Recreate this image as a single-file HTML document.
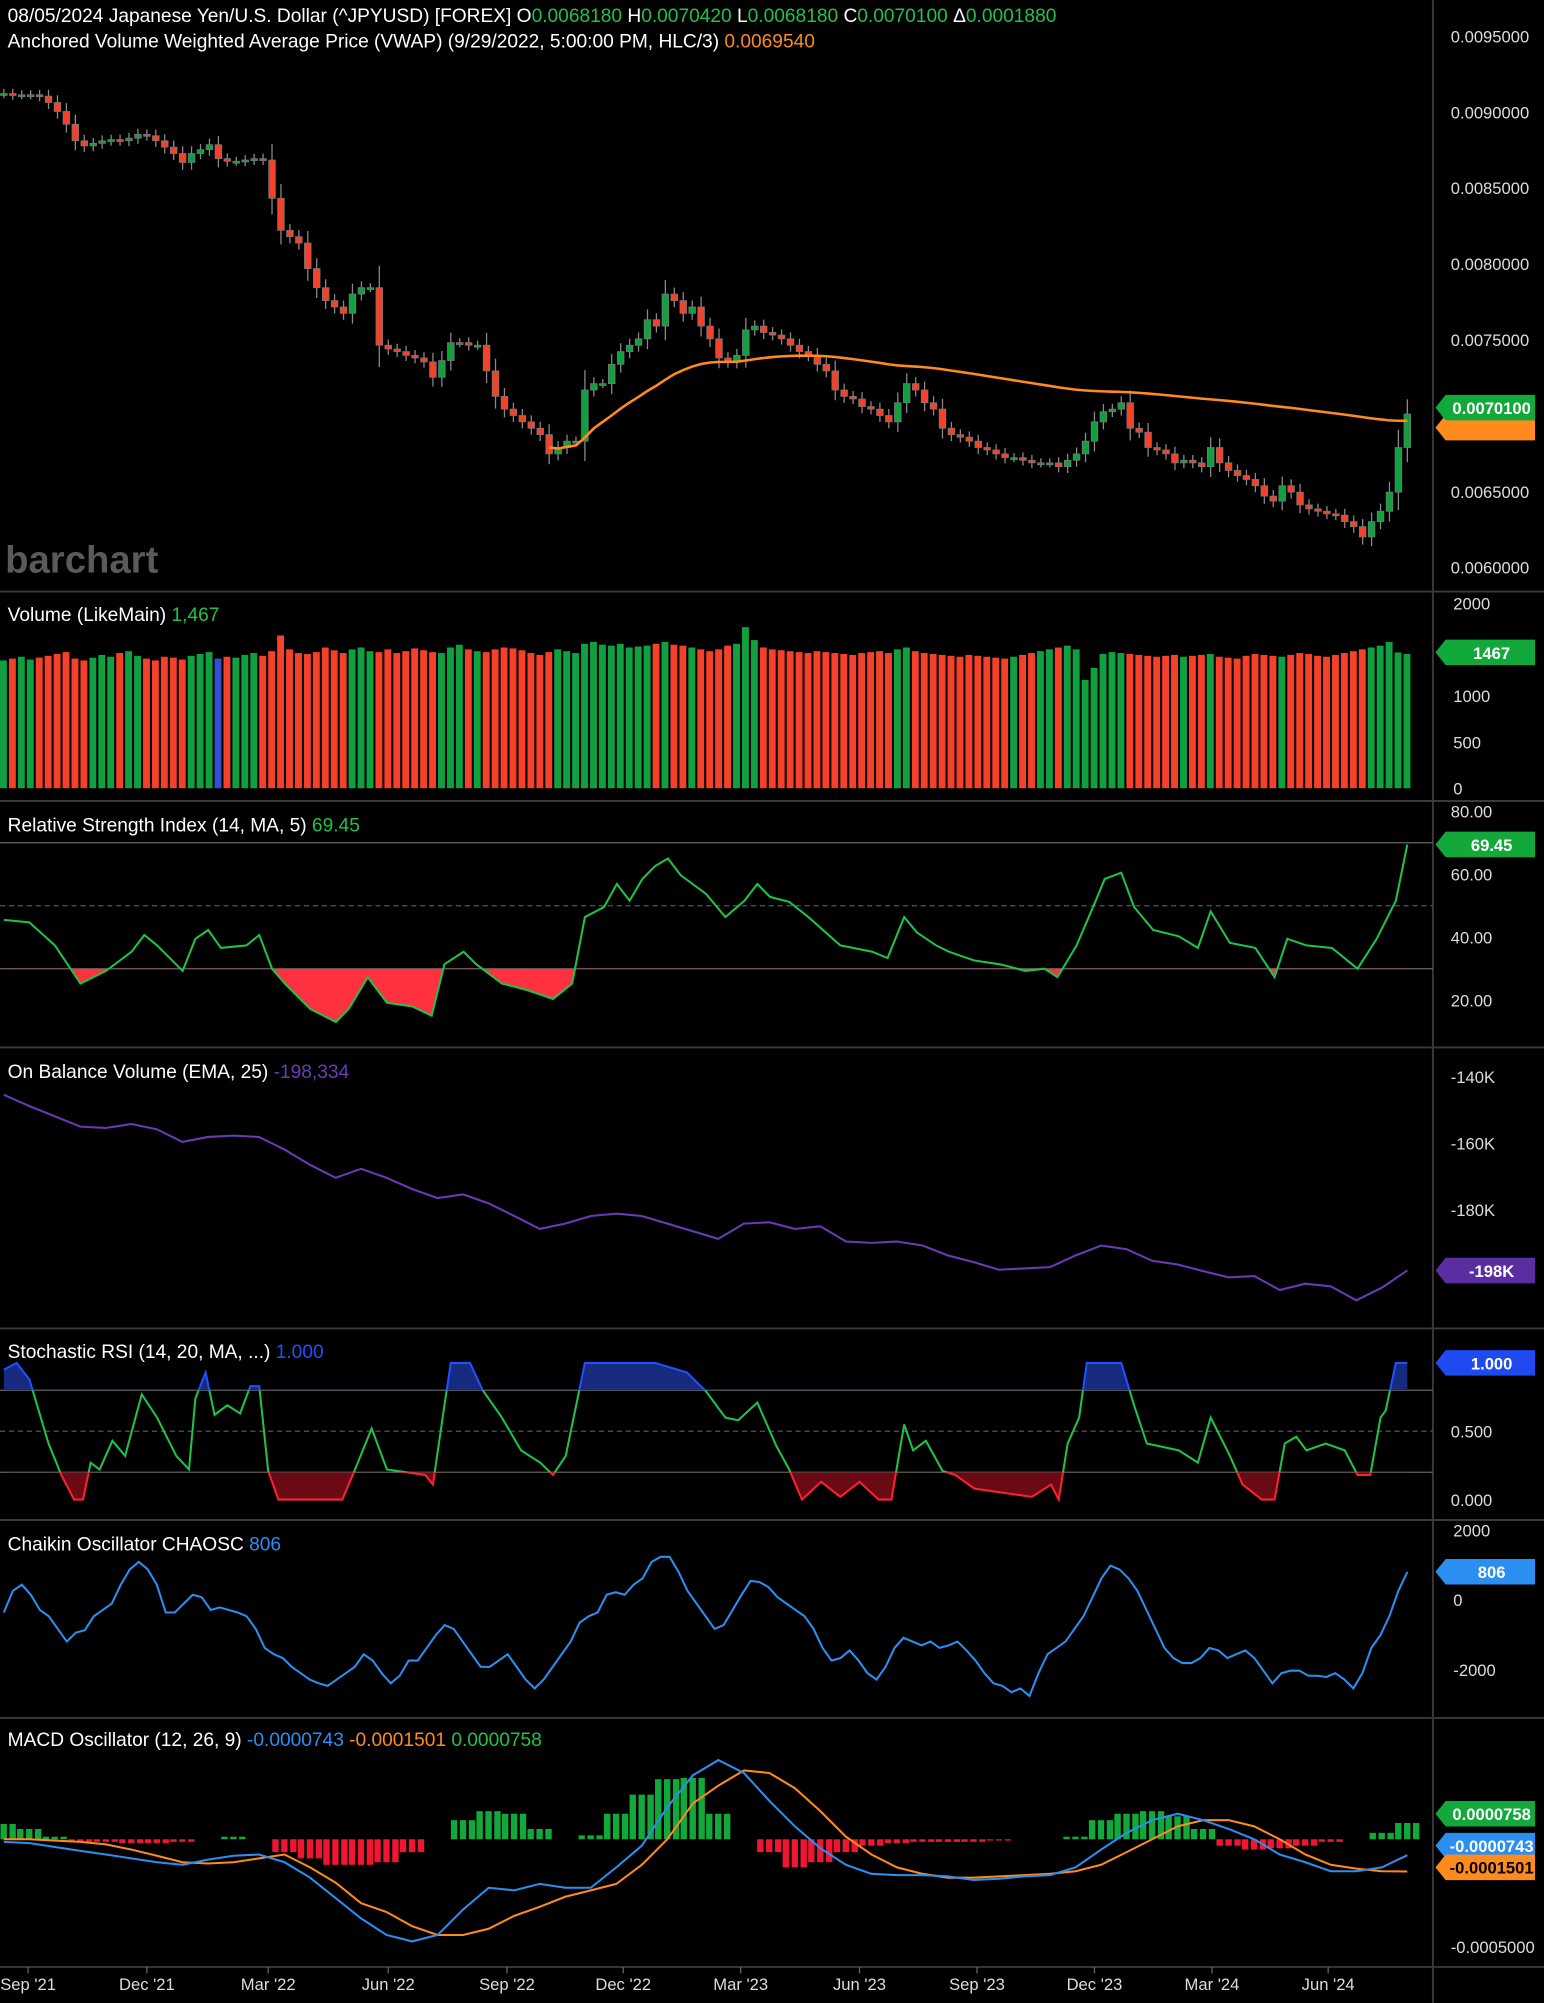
<!DOCTYPE html>
<html><head><meta charset="utf-8">
<style>
html,body{margin:0;padding:0;background:#000;width:1544px;height:2003px;overflow:hidden}
svg{display:block}
text{font-family:"Liberation Sans",sans-serif}
</style></head>
<body>
<svg id="c" width="1544" height="2003" viewBox="0 0 1209 1568"></svg>
<script>
const closes=[.009121,.009113,.009113,.009113,.009104,.009062,.009003,.008919,.008810,.008776,.008793,.008810,.008818,.008810,.008827,.008852,.008843,.008810,.008768,.008726,.008667,.008726,.008751,.008784,.008692,.008675,.008675,.008683,.008692,.008683,.008431,.008220,.008178,.008136,.007968,.007842,.007757,.007715,.007673,.007800,.007842,.007842,.007463,.007438,.007421,.007396,.007379,.007353,.007252,.007362,.007480,.007480,.007463,.007463,.007294,.007126,.007042,.007000,.006958,.006916,.006874,.006747,.006789,.006831,.006831,.007168,.007210,.007210,.007337,.007421,.007463,.007505,.007631,.007589,.007800,.007757,.007673,.007715,.007589,.007505,.007379,.007353,.007396,.007564,.007589,.007547,.007530,.007505,.007463,.007421,.007396,.007337,.007294,.007168,.007126,.007109,.007059,.007042,.007000,.006958,.007084,.007210,.007168,.007084,.007042,.006916,.006874,.006857,.006831,.006789,.006773,.006747,.006722,.006722,.006705,.006688,.006688,.006688,.006663,.006705,.006747,.006831,.006958,.007025,.007042,.007084,.006916,.006890,.006789,.006773,.006747,.006688,.006705,.006688,.006663,.006789,.006688,.006638,.006604,.006579,.006537,.006469,.006436,.006537,.006495,.006411,.006385,.006369,.006352,.006343,.006301,.006268,.006200,.006301,.006369,.006495,.006789,.007010];
const volumes=[1380,1400,1420,1390,1410,1430,1450,1470,1400,1380,1410,1440,1420,1460,1480,1430,1400,1380,1420,1410,1390,1430,1450,1470,1400,1420,1410,1440,1460,1430,1480,1650,1500,1460,1450,1470,1520,1490,1460,1500,1520,1480,1470,1500,1460,1480,1510,1490,1470,1460,1520,1550,1500,1480,1470,1500,1520,1510,1490,1460,1440,1470,1500,1480,1460,1560,1580,1550,1540,1560,1520,1530,1540,1560,1580,1550,1540,1520,1500,1480,1500,1540,1560,1740,1600,1520,1500,1490,1480,1470,1460,1480,1470,1460,1450,1440,1460,1470,1480,1460,1500,1520,1480,1460,1450,1440,1430,1420,1440,1430,1420,1410,1400,1420,1440,1460,1480,1500,1520,1540,1500,1170,1300,1450,1470,1460,1450,1440,1430,1420,1430,1440,1420,1430,1440,1450,1420,1410,1400,1430,1450,1440,1430,1420,1440,1460,1450,1430,1420,1440,1460,1480,1500,1520,1540,1580,1467,1450];
// indicator samples: day offset from chart start, value
const rsiDay=[0,20,40,60,80,100,110,120,140,150,160,170,190,200,210,220,240,260,270,285,300,320,335,345,360,370,390,410,430,445,455,470,480,490,500,510,520,530,550,565,580,590,600,615,630,655,680,692,705,715,730,740,760,780,800,815,825,840,855,862,875,885,900,920,935,945,960,980,995,1005,1020,1040,1060,1075,1090,1099];
const rsiVal=[45.5,44.7,37.4,25.3,29.3,35.4,40.7,37.4,29.3,39.5,42.3,36.6,37.4,40.7,30,25.3,17.2,13.1,17.2,27.3,19.2,18,15.1,31.4,35.4,31.4,25.3,23.2,20.4,25.3,46.4,49.6,56.9,51.6,58.5,62.6,65,59.7,53.7,46.4,51.6,56.9,52.8,51.2,46.4,37.4,35.4,33.4,46.4,41.5,37.4,35.4,32.6,31.4,29.3,30,27.3,37.4,51.6,58.5,60.5,49.6,42.3,40.3,36.6,48.2,38.2,36.6,27.3,39.5,37.4,36.6,30,39.5,51.6,69.45];
const stochDay=[0,10,20,35,45,55,62,68,75,85,95,108,120,135,145,150,158,165,175,185,193,200,207,215,265,275,288,300,330,336,345,350,365,375,390,405,420,430,440,455,470,490,510,535,550,565,575,590,605,615,625,640,655,670,685,695,705,712,722,735,745,760,775,790,805,820,826,833,842,848,875,885,895,920,935,945,960,970,985,995,1003,1012,1020,1035,1050,1060,1070,1078,1082,1090,1099];
const stochVal=[0.95,1,0.88,0.41,0.18,0,0,0.27,0.22,0.43,0.32,0.77,0.6,0.32,0.22,0.74,0.93,0.62,0.69,0.63,0.83,0.83,0.21,0,0,0.22,0.52,0.22,0.18,0.11,0.69,1,1,0.8,0.6,0.36,0.27,0.18,0.32,1,1,1,1,0.93,0.79,0.6,0.58,0.71,0.39,0.22,0,0.13,0.02,0.13,0,0,0.55,0.36,0.43,0.21,0.18,0.08,0.06,0.04,0.02,0.11,0,0.41,0.6,1,1,0.69,0.41,0.36,0.27,0.6,0.32,0.11,0,0,0.41,0.46,0.36,0.41,0.36,0.18,0.18,0.6,0.65,1,1];
const obvK=[-145.4,-148.8,-151.9,-155.0,-155.4,-154.2,-155.8,-159.6,-158.1,-157.7,-158.1,-161.9,-166.5,-170.4,-167.7,-170.4,-173.8,-176.5,-175.4,-178.1,-181.9,-185.8,-184.2,-181.9,-181.2,-181.9,-184.2,-186.5,-188.8,-184.2,-183.8,-185.8,-185.0,-189.6,-190.0,-189.6,-190.8,-193.8,-195.8,-198.1,-197.7,-197.3,-193.8,-190.8,-191.9,-195.4,-196.5,-198.5,-200.4,-200.0,-204.2,-202.3,-203.1,-207.3,-203.5,-198.3];
const macdE5=[-1.2,-1.8,-3.6,-5.4,-7.1,-8.9,-10.7,-11.9,-9.5,-7.7,-7.1,-10.7,-17.9,-27.4,-36.9,-44.6,-47.6,-44.6,-32.7,-22.6,-23.8,-20.8,-22.6,-22.6,-13.1,-3.0,14.9,29.8,36.9,30.9,17.9,6.0,-4.2,-11.9,-16.1,-16.7,-16.7,-17.3,-19.0,-18.4,-17.3,-16.7,-13.1,-4.8,3.0,8.9,11.9,8.9,4.8,0,-7.1,-10.7,-14.9,-14.9,-13.1,-7.43];
const signalE5=[0,0,-0.6,-1.2,-2.4,-4.8,-7.7,-10.7,-11.3,-10.7,-8.9,-7.1,-13.1,-20.2,-29.8,-33.9,-40.5,-44.6,-44.6,-41.7,-35.7,-31.5,-26.8,-23.8,-20.8,-11.9,0,16.7,25.0,32.1,30.9,23.8,13.1,1.2,-7.1,-13.1,-16.1,-17.9,-17.9,-17.3,-16.7,-16.1,-14.9,-11.9,-6.0,0,6.0,8.9,8.9,6.0,0,-7.1,-11.9,-13.7,-14.9,-15.01];
const histE5=[7.1,4.8,1.2,-1.2,-1.2,-1.8,-1.8,-1.2,0,1.2,0,-6.0,-8.9,-11.9,-11.9,-10.7,-6.0,0,8.9,13.1,11.9,4.8,0,1.8,11.9,20.8,28.0,28.6,11.9,0,-6.0,-13.1,-10.7,-6.0,-3.0,-1.8,-1.2,-1.2,-1.2,-0.6,0,0,1.2,8.9,11.9,13.1,10.7,4.8,-3.0,-4.8,-4.2,-3.0,-1.2,0,3.0,7.58];
const chaikin=[-364,255,436,145,-291,-473,-836,-1200,-945,-873,-473,-291,-109,436,873,1091,873,436,-364,-364,-109,145,73,-291,-218,-291,-364,-473,-836,-1382,-1564,-1673,-1927,-2109,-2291,-2400,-2473,-2291,-2109,-1927,-1564,-1745,-2109,-2400,-2182,-1745,-1745,-1382,-1018,-727,-836,-1200,-1564,-1927,-1927,-1745,-1564,-1927,-2291,-2545,-2291,-1927,-1564,-1200,-655,-473,-364,145,218,145,436,618,1091,1236,1236,800,255,-109,-473,-836,-727,-291,145,545,509,364,73,-109,-291,-473,-836,-1382,-1745,-1673,-1455,-1745,-2109,-2291,-1927,-1382,-1091,-1200,-1309,-1200,-1382,-1309,-1200,-1455,-1745,-2109,-2400,-2473,-2655,-2545,-2764,-2109,-1564,-1382,-1200,-836,-473,73,618,982,873,618,255,-291,-836,-1382,-1673,-1818,-1818,-1673,-1382,-1455,-1673,-1564,-1455,-1673,-2036,-2400,-2109,-2036,-2036,-2182,-2182,-2218,-2109,-2291,-2545,-2109,-1382,-1018,-473,255,806];
const priceTicks=[0.0095,0.009,0.0085,0.008,0.0075,0.007,0.0065,0.006];
const dateLabels=["Sep '21","Dec '21","Mar '22","Jun '22","Sep '22","Dec '22","Mar '23","Jun '23","Sep '23","Dec '23","Mar '24","Jun '24"];
const dateDay=[19,112,207,301,394,485,577,670,762,854,946,1037];
const vwapAnchor=61;

const NS="http://www.w3.org/2000/svg";
const svg=document.getElementById('c');
function el(tag,attrs,parent){const e=document.createElementNS(NS,tag);for(const k in attrs)e.setAttribute(k,attrs[k]);(parent||svg).appendChild(e);return e;}
function txt(s,x,y,fill,size,anchor,parent){const t=el('text',{x:x,y:y,fill:fill,'font-size':size||13,'text-anchor':anchor||'start'},parent);t.textContent=s;return t;}
const N=closes.length;
const X=i=>3+i*(1099/(N-1));
const XD=d=>3+d;
const XG=(k,n)=>3+k*(1099/(n-1));
const AX=1122;
function lin(v0,y0,v1,y1){return v=>y0+(v-v0)*(y1-y0)/(v1-v0);}
const yP=lin(0.0095,28,0.006,444);
const yV=lin(0,617,2000,472);
const yR=lin(80,635,20,783);
const yO=lin(-140,843,-180,947);
const yS=lin(1,1067,0,1174);
const yC=lin(2000,1198,-2000,1307);
const yM=lin(0,1440,-50,1524);

[463,627,820,1040,1190,1345,1540].forEach(y=>{const l=el('line',{x1:0,x2:1209,y1:y,y2:y,stroke:'#3a3a3a','stroke-width':1.5});

});
const ax=el('line',{x1:AX,x2:AX,y1:0,y2:1568,stroke:'#3a3a3a','stroke-width':1.5});



const opens=closes.map((c,i)=>i?closes[i-1]:c);
const highs=closes.map((c,i)=>Math.max(c,opens[i])+Math.abs(c-opens[i])*0.3+0.00003);
const lows=closes.map((c,i)=>Math.min(c,opens[i])-Math.abs(c-opens[i])*0.3-0.00003);
const GREEN='#10a040',RED='#f5412a';

let pv=0,vv=0;const vwap=[];
for(let i=vwapAnchor;i<N;i++){const tp=(highs[i]+lows[i]+closes[i])/3;pv+=tp*volumes[i];vv+=volumes[i];vwap.push([i,pv/vv]);}

const gMain=el('g',{});


for(let i=0;i<N;i++){
  const up=closes[i]>=opens[i];const x=X(i);
  const w=el('line',{x1:x,x2:x,y1:yP(highs[i]),y2:yP(lows[i]),stroke:'#8a8a8a','stroke-width':1},gMain);
  
  
  const t=yP(Math.max(closes[i],opens[i])),b=yP(Math.min(closes[i],opens[i]));
  const r=el('rect',{x:x-2.6,y:t,width:5.2,height:Math.max(1.5,b-t),fill:up?GREEN:RED,stroke:'#777','stroke-width':0.6},gMain);
  
  
}
const vp=el('polyline',{points:vwap.map(p=>X(p[0])+','+yP(p[1])).join(' '),fill:'none',stroke:'#ff8a1e','stroke-width':2});


const wm=txt('barchart',4,448,'#5a5a5a',30);


wm.setAttribute('font-weight','bold');
priceTicks.forEach(v=>{const t=txt(v.toFixed(7),1136,yP(v)+5,'#ddd',13);

});

// volume
for(let i=0;i<volumes.length;i++){const up=i<N?closes[i]>=opens[i]:true;const b=el('rect',{x:X(i)-3,y:yV(volumes[i]),width:5.4,height:yV(0)-yV(volumes[i]),fill:i===24?'#3050d0':(up?GREEN:RED)});

}
[2000,1500,1000,500,0].forEach(v=>{const t=txt(String(v),1138,yV(v)+5,'#ddd',13);

});

function clip(id,y0,y1){const cp=el('clipPath',{id:id});el('rect',{x:0,y:y0,width:AX,height:y1-y0},cp);}
function pts(days,vals,yf){return vals.map((v,i)=>XD(days[i])+','+yf(v));}
function fillArea(days,vals,yf,thr,fill,clipId,name){const p=pts(days,vals,yf);const poly=el('polygon',{points:XD(days[0])+','+yf(thr)+' '+p.join(' ')+' '+XD(days[days.length-1])+','+yf(thr),fill:fill,'clip-path':'url(#'+clipId+')'});

}
function line(days,vals,yf,color,name,clipId){const p=el('polyline',{points:pts(days,vals,yf).join(' '),fill:'none',stroke:color,'stroke-width':1.6});
if(clipId)p.setAttribute('clip-path','url(#'+clipId+')');

}

// RSI
[[70,'#666',''],[50,'#555','4,3'],[30,'#666','']].forEach(a=>{const l=el('line',{x1:0,x2:AX,y1:yR(a[0]),y2:yR(a[0]),stroke:a[1],'stroke-dasharray':a[2]});

});
clip('rsiLow',yR(30),yR(0));
fillArea(rsiDay,rsiVal,yR,30,'#ff3040','rsiLow','rsi-oversold-fill');
line(rsiDay,rsiVal,yR,'#1fc24a','rsi-line');
[80,60,40,20].forEach(v=>{const t=txt(v.toFixed(2),1136,yR(v)+5,'#ddd',13);

});

// OBV
const op=el('polyline',{points:obvK.map((v,k)=>XG(k,obvK.length)+','+yO(v)).join(' '),fill:'none',stroke:'#6a3ab8','stroke-width':1.6});


[-140,-160,-180].forEach(v=>{const t=txt(v+'K',1136,yO(v)+5,'#ddd',13);

});

// Stoch RSI
[[0.8,'#666',''],[0.5,'#555','4,3'],[0.2,'#666','']].forEach(a=>{const l=el('line',{x1:0,x2:AX,y1:yS(a[0]),y2:yS(a[0]),stroke:a[1],'stroke-dasharray':a[2]});

});
clip('sHi',yS(1.2),yS(0.8));clip('sLo',yS(0.2),yS(-0.2));clip('sMid',yS(0.8),yS(0.2));
fillArea(stochDay,stochVal,yS,0.8,'#162a80','sHi','stoch-overbought-fill');
fillArea(stochDay,stochVal,yS,0.2,'#6a0a14','sLo','stoch-oversold-fill');
line(stochDay,stochVal,yS,'#1fc24a','stoch-rsi-line','sMid');
line(stochDay,stochVal,yS,'#2050ff','stoch-rsi-line-high','sHi');
line(stochDay,stochVal,yS,'#ff2030','stoch-rsi-line-low','sLo');
[1,0.5,0].forEach(v=>{const t=txt(v.toFixed(3),1136,yS(v)+5,'#ddd',13);

});

// Chaikin
const cp=el('polyline',{points:chaikin.map((v,i)=>XG(i,chaikin.length)+','+yC(v)).join(' '),fill:'none',stroke:'#2a8ff0','stroke-width':1.6});


[2000,0,-2000].forEach(v=>{const t=txt(String(v),1138,yC(v)+5,'#ddd',13);

});

// MACD
const M=histE5.length;
for(let k=0;k<M;k++){const x=XG(k,M);const y0=yM(0),y1=yM(histE5[k]);
[-7,0,7].forEach(dx=>{const b=el('rect',{x:x+dx-2.6,y:Math.min(y0,y1),width:5,height:Math.abs(y1-y0),fill:histE5[k]>=0?'#12a83a':'#f01530'});

});}
const sp=el('polyline',{points:signalE5.map((v,k)=>XG(k,M)+','+yM(v)).join(' '),fill:'none',stroke:'#ff8a1e','stroke-width':1.6});


const mp=el('polyline',{points:macdE5.map((v,k)=>XG(k,M)+','+yM(v)).join(' '),fill:'none',stroke:'#2a8ff0','stroke-width':1.6});


const mt=txt('-0.0005000',1136,yM(-50)+5,'#ddd',13);



dateLabels.forEach((s,k)=>{const x=XD(dateDay[k]);const t=txt(s,x,1558,'#ddd',13,'middle');


const tk=el('line',{x1:x,x2:x,y1:1540,y2:1545,stroke:'#666'});

});

function tag(y,label,bg,fg,name){const g=el('g',{});
el('polygon',{points:`${AX+2},${y} ${AX+10},${y-10} ${AX+80},${y-10} ${AX+80},${y+10} ${AX+10},${y+10}`,fill:bg},g);
const t=txt(label,AX+46,y+5,fg,13,'middle',g);t.setAttribute('font-weight','bold');}
tag(yP(0.0069540)+4,'','#ff8a1e','#000','vwap-tag');
tag(yP(0.00701)-5,'0.0070100','#12a83a','#fff','price-tag');
tag(yV(1467),'1467','#12a83a','#fff','volume-tag');
tag(yR(69.45),'69.45','#12a83a','#fff','rsi-tag');
tag(yO(-198.334),'-198K','#5a2ea0','#fff','obv-tag');
tag(yS(1),'1.000','#1f4af0','#fff','stoch-tag');
tag(yC(806),'806','#2a8ff0','#fff','chaikin-tag');
tag(1420,'0.0000758','#12a83a','#fff','macd-hist-tag');
tag(1445,'-0.0000743','#2a8ff0','#fff','macd-tag');
tag(1462,'-0.0001501','#ff8a1e','#000','macd-signal-tag');

function header(y,parts,name){const t=el('text',{x:6,y:y,'font-size':15},svg);
parts.forEach(p=>{const s=el('tspan',{fill:p[1]},t);s.textContent=p[0];});}
header(17,[["08/05/2024 Japanese Yen/U.S. Dollar (^JPYUSD) [FOREX] O",'#fff'],["0.0068180 ",'#1fc24a'],["H",'#fff'],["0.0070420 ",'#1fc24a'],["L",'#fff'],["0.0068180 ",'#1fc24a'],["C",'#fff'],["0.0070100 ",'#1fc24a'],["Δ",'#fff'],["0.0001880",'#1fc24a']],'main-header');
header(37,[["Anchored Volume Weighted Average Price (VWAP)  (9/29/2022, 5:00:00 PM, HLC/3) ",'#fff'],["0.0069540",'#ff8a1e']],'vwap-header');
header(486,[["Volume  (LikeMain) ",'#fff'],["1,467",'#1fc24a']],'volume-header');
header(651,[["Relative Strength Index  (14, MA, 5) ",'#fff'],["69.45",'#1fc24a']],'rsi-header');
header(844,[["On Balance Volume  (EMA, 25) ",'#fff'],["-198,334",'#6a3ab8']],'obv-header');
header(1063,[["Stochastic RSI  (14, 20, MA, ...) ",'#fff'],["1.000",'#2050ff']],'stoch-header');
header(1214,[["Chaikin Oscillator CHAOSC ",'#fff'],["806",'#2a8ff0']],'chaikin-header');
header(1367,[["MACD Oscillator  (12, 26, 9) ",'#fff'],["-0.0000743 ",'#2a8ff0'],["-0.0001501 ",'#ff8a1e'],["0.0000758",'#1fc24a']],'macd-header');
</script>
</body></html>
